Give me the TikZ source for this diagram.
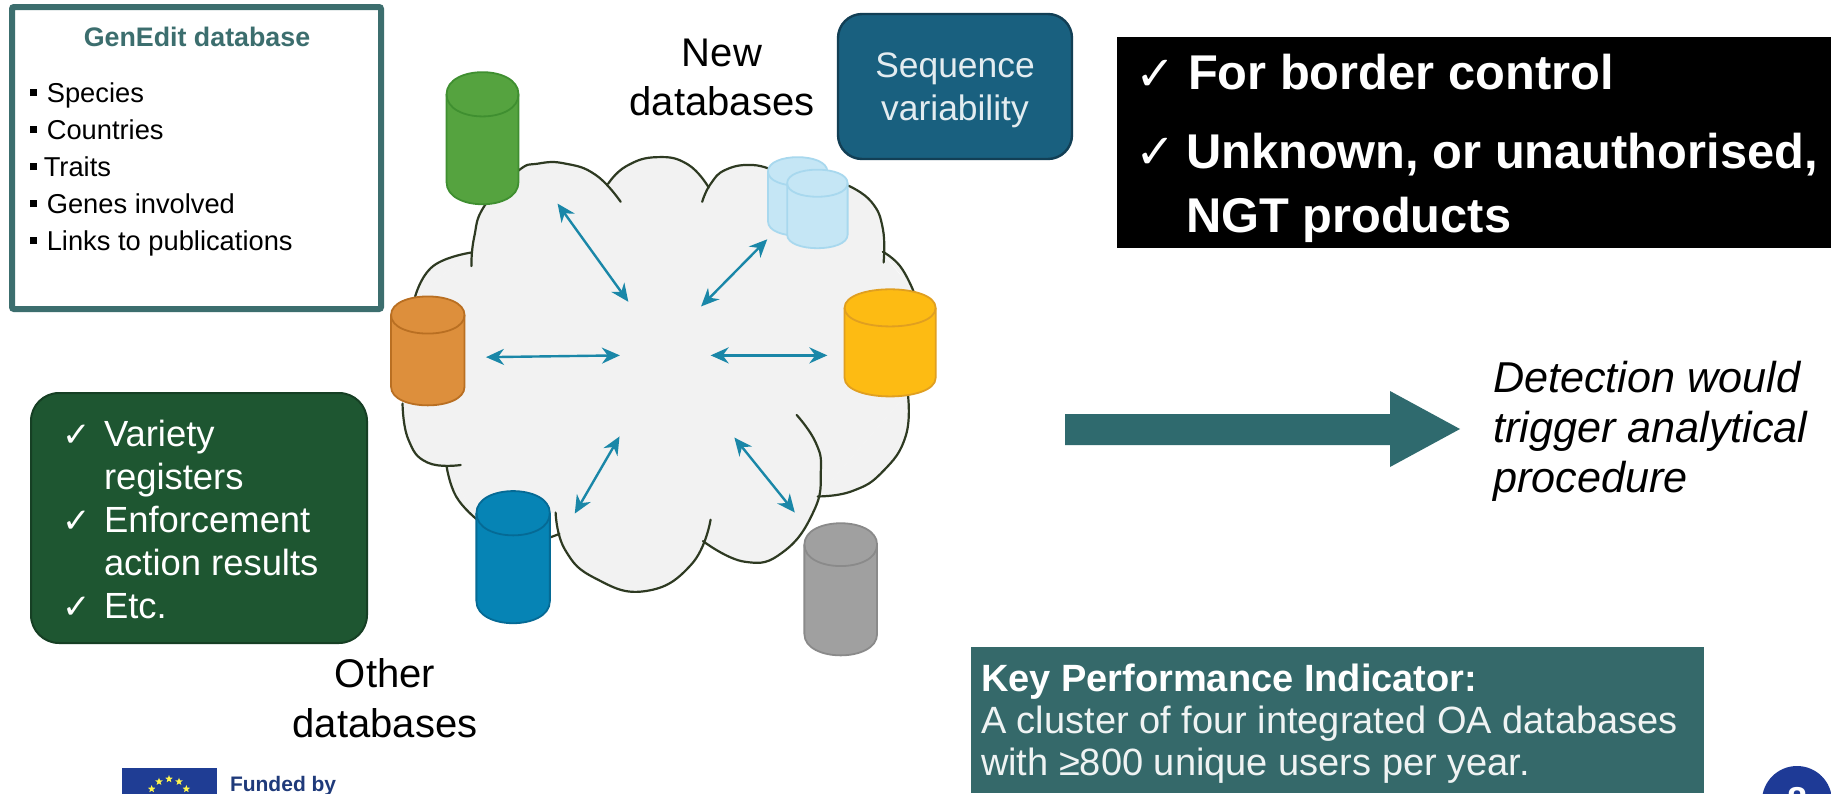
\documentclass[tikz,border=0pt]{standalone}
\usepackage{fontspec}
\setmainfont{Liberation Sans}
\newfontfamily\checkfont{DejaVu Sans}
\usetikzlibrary{shapes.geometric,arrows.meta}
\definecolor{tealdark}{HTML}{3C6E6E}
\definecolor{kpiteal}{HTML}{35696A}
\definecolor{arrowteal}{HTML}{2F6A6E}
\definecolor{seqblue}{HTML}{19607F}
\definecolor{seqedge}{HTML}{123F55}
\definecolor{forest}{HTML}{1E5631}
\definecolor{forestedge}{HTML}{163F24}
\definecolor{cloudgrey}{HTML}{F2F2F2}
\definecolor{cloudedge}{HTML}{2E3A22}
\definecolor{linkblue}{HTML}{1A87A8}
\definecolor{euflag}{HTML}{1F3D94}
\definecolor{eunavy}{HTML}{1F3A7A}
\definecolor{pagenavy}{HTML}{1E3A96}
\definecolor{cgreenF}{HTML}{55A33F}\definecolor{cgreenE}{HTML}{3F8F30}
\definecolor{clightF}{HTML}{C5E6F5}\definecolor{clightE}{HTML}{A8D8EE}
\definecolor{corangeF}{HTML}{DD8F3C}\definecolor{corangeE}{HTML}{B96F22}
\definecolor{cyellowF}{HTML}{FDBB13}\definecolor{cyellowE}{HTML}{E09F20}
\definecolor{cblueF}{HTML}{0684B5}\definecolor{cblueE}{HTML}{056A95}
\definecolor{cgreyF}{HTML}{A0A0A0}\definecolor{cgreyE}{HTML}{8A8A8A}
\newcommand{\fs}[1]{\fontsize{#1pt}{#1pt}\selectfont}
\newcommand{\ck}{{\checkfont ✓}}
\newcommand{\sqb}{\rule[3pt]{3.4pt}{3.4pt}}
\newcommand{\cyl}[8]{%
  \draw[line width=0.9pt,fill=#7,draw=#8,line join=round] (#2,{#4+#6}) -- (#2,{#5-#6})
    .. controls (#2,{#5+#6*0.333}) and (#3,{#5+#6*0.333}) .. (#3,{#5-#6})
    -- (#3,{#4+#6})
    .. controls (#3,{#4-#6*0.333}) and (#2,{#4-#6*0.333}) .. (#2,{#4+#6}) -- cycle;
  \draw[line width=0.9pt,draw=#8] (#2,{#4+#6})
    .. controls (#2,{#4+#6*2.333}) and (#3,{#4+#6*2.333}) .. (#3,{#4+#6});
  \coordinate (#1) at ({(#2+#3)/2},{(#4+#5)/2});
}
\tikzset{
  txt/.style={inner sep=0pt,outer sep=0pt,anchor=base west,text=black},
  ctr/.style={inner sep=0pt,outer sep=0pt,anchor=base,text=black},
  link/.style={draw=linkblue,line width=1.2pt,{Stealth[length=9pt,width=8pt]}-{Stealth[length=9pt,width=8pt]}},
  lobeline/.style={draw=cloudedge,line width=1.1pt,line cap=round},
  panel/.style={inner sep=0pt,outer sep=0pt,anchor=north west},
  eustar/.style={star,star points=5,star point ratio=2.4,fill=yellow!70!white,inner sep=0pt,minimum size=4pt},
}
\begin{document}
\begin{tikzpicture}[x=0.5pt,y=-0.5pt]
\useasboundingbox (0,0) rectangle (1831,793);
\clip (0,0) rectangle (1831,793);
\fill[white] (0,0) rectangle (1831,793);

% GenEdit panel
\node[panel,draw=tealdark,line width=3pt,minimum width=184.5pt,minimum height=151pt,rounded corners=1pt] (genbox) at (12,7) {};
\node[ctr,text=tealdark,font=\bfseries\fs{13.4}] (gentitle) at (197,46) {GenEdit database};
\node[txt,font=\fs{13.65}] (g1) at (30,102) {\sqb\hspace{5pt}Species};
\node[txt,font=\fs{13.65}] (g2) at (30,139) {\sqb\hspace{5pt}Countries};
\node[txt,font=\fs{13.65}] (g3) at (30,176) {\sqb\hspace{3.5pt}Traits};
\node[txt,font=\fs{13.65}] (g4) at (30,213) {\sqb\hspace{5pt}Genes involved};
\node[txt,font=\fs{13.65}] (g5) at (30,250) {\sqb\hspace{5pt}Links to publications};

% Cloud and cylinders, in a local coordinate frame
\begin{scope}[shift={(370,100)},xscale=0.38270,yscale=0.35714]
\newcommand{\alllobes}{%
  \lobe{(265,465) (272,385) (300,295) (385,200) (440,178) (510,178) (590,210) (655,285)}
  \lobe{(622,235) (670,185) (750,160) (830,180) (885,245)}
  \lobe{(868,285) (890,235) (930,195) (1000,182) (1060,200)}
  \lobe{(1250,240) (1310,285) (1340,360) (1342,455)}
  \lobe{(1340,425) (1385,465) (1420,535)}
  \lobe{(1405,820) (1400,940) (1340,1040) (1260,1095) (1170,1110)}
  \lobe{(1115,882) (1165,960) (1178,1040) (1160,1150) (1080,1265) (980,1293) (870,1235)}
  \lobe{(890,1175) (840,1300) (720,1375) (590,1340) (510,1260) (485,1155)}
  \lobe{(470,1225) (495,1215)}
  \lobe{(280,1175) (225,1110) (200,1025)}
  \lobe{(237,1022) (150,1015) (100,950) (85,850)}
  \lobe{(118,550) (165,465) (265,427)}
}
\newcommand{\lobe}[1]{\fill[cloudgrey] plot[smooth,tension=0.8] coordinates {#1} -- cycle;}
\alllobes
\fill[cloudgrey] (300,295) -- (385,200) -- (622,235) -- (750,200) -- (885,245) -- (1000,210) -- (1060,200) -- (1250,240) -- (1340,430) -- (1420,535) -- (1405,820) -- (1170,1110) -- (870,1235) -- (485,1155) -- (280,1175) -- (200,1025) -- (85,850) -- (118,550) -- (265,427) -- cycle;
\renewcommand{\lobe}[1]{\draw[lobeline] plot[smooth,tension=0.8] coordinates {#1};}
\alllobes

\cyl{dbgreen}{200}{388}{-78}{292}{62}{cgreenF}{cgreenE}
\cyl{dblightA}{1040}{1195}{160}{380}{40}{clightF}{clightE}
\cyl{dblightB}{1090}{1248}{195}{415}{38}{clightF}{clightE}
\cyl{dborange}{55}{247}{550}{855}{52}{corangeF}{corangeE}
\cyl{dbyellow}{1240}{1478}{530}{830}{52}{cyellowF}{cyellowE}
\cyl{dbblue}{278}{470}{1095}{1465}{62}{cblueF}{cblueE}
\cyl{dbgrey}{1135}{1325}{1185}{1555}{60}{cgreyF}{cgreyE}

\coordinate (a1) at (490,290); \coordinate (b1) at (675,565);
\coordinate (a2) at (1038,390); \coordinate (b2) at (865,578);
\coordinate (a3) at (303,720); \coordinate (b3) at (653,715);
\coordinate (a4) at (1195,715); \coordinate (b4) at (890,715);
\coordinate (a5) at (535,1158); \coordinate (b5) at (652,942);
\coordinate (a6) at (1110,1155); \coordinate (b6) at (952,945);
\foreach \i in {1,...,6} {\draw[link] (a\i) -- (b\i);}
\end{scope}

% New databases
\node[ctr,font=\fs{20}] (new1) at (722,66) {New};
\node[ctr,font=\fs{20}] (new2) at (722,115) {databases};

% Sequence variability
\node[panel,fill=seqblue,draw=seqedge,line width=1.2pt,rounded corners=12pt,minimum width=117pt,minimum height=72.5pt] (seqbox) at (838,14) {};
\node[ctr,text=white!88!seqblue,font=\fs{17.7}] (seq1) at (955,77) {Sequence};
\node[ctr,text=white!88!seqblue,font=\fs{17.7}] (seq2) at (955,120) {variability};

% Black panel
\node[panel,fill=black,minimum width=357pt,minimum height=105.5pt] (blackbox) at (1117,37) {};
\node[txt,text=white,font=\bfseries\fs{24}] (bc1) at (1135,90) {\ck};
\node[txt,text=white,font=\bfseries\fs{24.4}] (b1t) at (1188,89) {For border control};
\node[txt,text=white,font=\bfseries\fs{24}] (bc2) at (1135,168) {\ck};
\node[txt,text=white,font=\bfseries\fs{24.4}] (b2t) at (1186,168) {Unknown, or unauthorised,};
\node[txt,text=white,font=\bfseries\fs{24.4}] (b3t) at (1186,232) {NGT products};

% Green panel
\node[panel,fill=forest,draw=forestedge,line width=1pt,rounded corners=14pt,minimum width=168pt,minimum height=125pt] (greenbox) at (31,393) {};
\node[txt,text=white,font=\fs{17}] (gc1) at (62,446) {\ck};
\node[txt,text=white,font=\fs{18.2}] (gt1) at (104,446) {Variety};
\node[txt,text=white,font=\fs{18.2}] (gt2) at (104,489) {registers};
\node[txt,text=white,font=\fs{17}] (gc2) at (62,532) {\ck};
\node[txt,text=white,font=\fs{18.2}] (gt3) at (104,532) {Enforcement};
\node[txt,text=white,font=\fs{18.2}] (gt4) at (104,575) {action results};
\node[txt,text=white,font=\fs{17}] (gc3) at (62,618) {\ck};
\node[txt,text=white,font=\fs{18.2}] (gt5) at (104,618) {Etc.};

% Other databases
\node[ctr,font=\fs{20}] (oth1) at (385,687) {Other};
\node[ctr,font=\fs{20}] (oth2) at (385,737) {databases};

% Big arrow
\fill[arrowteal] (1065,414) -- (1390,414) -- (1390,391) -- (1460,429) -- (1390,467) -- (1390,445) -- (1065,445) -- cycle;

% Italic note
\node[txt,font=\itshape\fs{21.6}] (det1) at (1493,392) {Detection would};
\node[txt,font=\itshape\fs{21.6}] (det2) at (1493,442) {trigger analytical};
\node[txt,font=\itshape\fs{21.6}] (det3) at (1493,492) {procedure};

% KPI panel
\node[panel,fill=kpiteal,minimum width=366.5pt,minimum height=73pt] (kpibox) at (971,647) {};
\node[txt,text=white,font=\bfseries\fs{19}] (k1) at (981,691) {Key Performance Indicator:};
\node[txt,text=white!92!kpiteal,font=\fs{19}] (k2) at (981,733) {A cluster of four integrated OA databases};
\node[txt,text=white!92!kpiteal,font=\fs{19}] (k3) at (981,775) {with ≥800 unique users per year.};

% EU flag and caption
\node[panel,fill=euflag,minimum width=47.5pt,minimum height=20pt] (flag) at (122,768) {};
\foreach \i in {0,...,11} {\node[eustar] (st\i) at ({169+20*sin(30*\i)},{799-20*cos(30*\i)}) {};}
\node[txt,text=eunavy,font=\bfseries\fs{10.5}] (funded) at (230,791) {Funded by};

% Page number
\node[circle,fill=pagenavy,minimum size=35pt,inner sep=0pt] (pagebadge) at (1797,801) {};
\node[ctr,text=white,font=\bfseries\fs{18}] (pagenum) at (1797,812) {8};
\end{tikzpicture}
\end{document}
